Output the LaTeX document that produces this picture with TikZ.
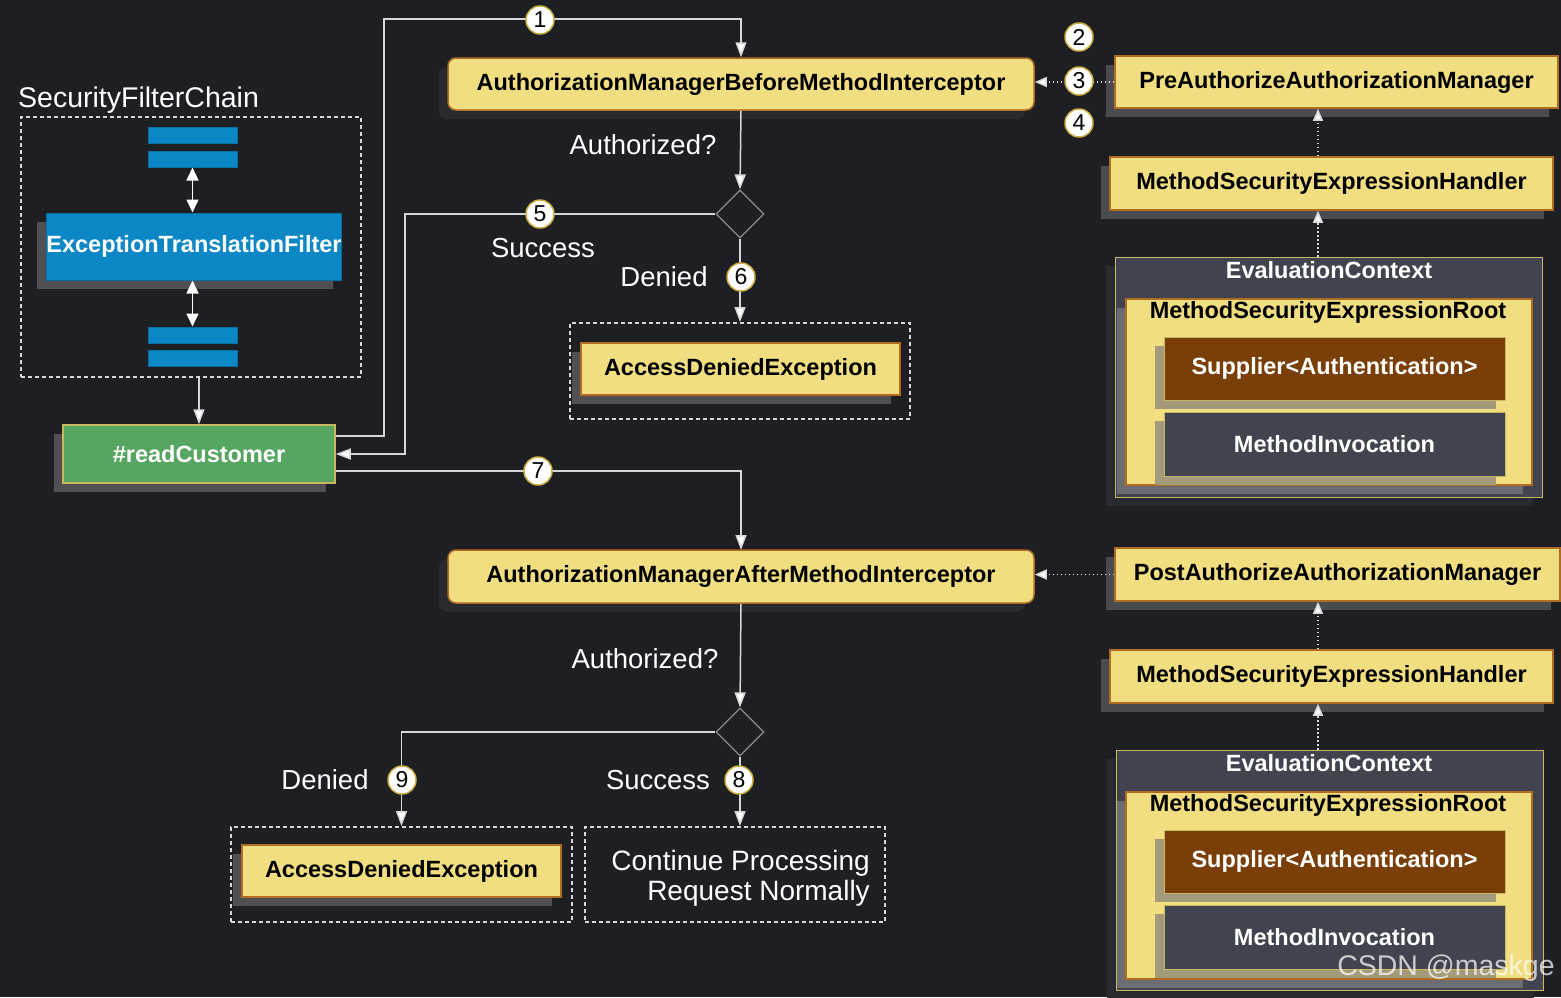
\documentclass[tikz,border=0pt]{standalone}
\usepackage{fontspec}
\setmainfont{Liberation Sans}
\usetikzlibrary{arrows.meta,shapes.geometric,shadows,calc}
\definecolor{bgc}{RGB}{29,31,35}
\definecolor{yel}{RGB}{240,222,128}
\definecolor{yelb}{RGB}{176,108,32}
\definecolor{bluec}{RGB}{11,135,197}
\definecolor{blueb}{RGB}{8,110,160}
\definecolor{greenc}{RGB}{86,165,96}
\definecolor{oliveb}{RGB}{200,184,100}
\definecolor{brownc}{RGB}{122,63,7}
\definecolor{slate}{RGB}{65,68,78}
\definecolor{linec}{RGB}{215,215,215}
\definecolor{diac}{RGB}{140,140,140}
\definecolor{numb}{RGB}{205,175,70}
\definecolor{shad}{RGB}{80,80,82}
\definecolor{shadr}{RGB}{74,75,80}
\definecolor{shadd}{RGB}{40,42,47}
\definecolor{shadm}{RGB}{108,109,114}
\definecolor{shady}{RGB}{162,154,120}
\begin{document}
\begin{tikzpicture}[x=1pt,y=-1pt,
  shd/.style={drop shadow={shadow xshift=-9pt,shadow yshift=-9pt,fill=#1,opacity=1}},
  fbox/.style={font=\fontsize{23.5}{28}\selectfont\bfseries, inner sep=0pt},
  ybox/.style={fbox, fill=yel, draw=yelb, line width=1.5pt, text=black},
  slbox/.style={fill=slate, draw=oliveb, line width=1pt},
  bar/.style={fill=bluec, draw=blueb, line width=1pt, minimum width=89, minimum height=16, inner sep=0pt},
  dbox/.style={draw=linec, line width=2pt, dash pattern=on 4pt off 3pt, inner sep=0pt},
  dia/.style={diamond, draw=diac, line width=1.2pt, minimum width=48, minimum height=48, inner sep=0pt},
  lbl/.style={font=\fontsize{27.5}{30}\selectfont, text=white, inner sep=0pt},
  num/.style={circle, fill=white, draw=numb, line width=1.5pt, inner sep=0pt, minimum size=28pt, font=\fontsize{23}{23}\selectfont, text=black},
  arr/.style={draw=linec, line width=1.5pt, -{Triangle[width=11pt,length=15pt,fill=white]}},
  dblarr/.style={draw=white, line width=1.5pt, {Triangle[width=12pt,length=13pt,fill=white]}-{Triangle[width=12pt,length=13pt,fill=white]}},
  dotarr/.style={draw=linec, line width=1.5pt, dash pattern=on 1.5pt off 2.5pt, -{Triangle[width=10pt,length=12pt,fill=white]}}
]
\path[use as bounding box, fill=bgc] (0,0) rectangle (1561,997);

% ---------- SecurityFilterChain ----------
\node[lbl, anchor=west, font=\fontsize{28.5}{30}\selectfont] (sfcl) at (18,100) {SecurityFilterChain};
\node[dbox, minimum width=340, minimum height=260] (sfc) at (191,247) {};
\node[bar] (b1) at (192.5,135) {};
\node[bar] (b2) at (192.5,159) {};
\node[bar] (b3) at (192.5,335) {};
\node[bar] (b4) at (192.5,358) {};
\node[fbox, fill=bluec, draw=blueb, line width=1pt, text=white, minimum width=294, minimum height=67, shd=shad] (etf) at (194,246.5) {ExceptionTranslationFilter};
\draw[dblarr] (b2.south) -- (b2.south |- etf.north);
\draw[dblarr] (b3.north |- etf.south) -- (b3.north);
\node[fbox, fill=greenc, draw=oliveb, line width=1.5pt, text=white, minimum width=272, minimum height=58, shd=shad] (rc) at (199,454) {\#readCustomer};
\draw[arr] (sfc.south -| rc.north) -- (rc.north);

% ---------- Before interceptor ----------
\node[ybox, rounded corners=8pt, minimum width=586, minimum height=52, shd=shadd] (before) at (741,84) {AuthorizationManagerBeforeMethodInterceptor};
\node[dia] (d1) at (740,214) {};
\node[dbox, minimum width=340, minimum height=96] (adb1) at (740,371) {};
\node[ybox, minimum width=319, minimum height=52, shd=shad] (ad1) at (740.5,369) {AccessDeniedException};

\draw[arr] ($(rc.east)+(0,-18)$) -| (384,19) -| (before.north);
\draw[arr] (before.south) -- (d1.north);
\draw[arr] (d1.west) -| (405,454) -- (rc.east);
\draw[arr] (d1.south) -- (adb1.north);
\draw[arr] ($(rc.east)+(0,17)$) -| (741,550);

\node[lbl] (q1) at (643,145) {Authorized?};
\node[lbl] (s1) at (543,248) {Success};
\node[lbl] (dn1) at (664,277) {Denied};

% ---------- After interceptor ----------
\node[ybox, rounded corners=8pt, minimum width=586, minimum height=53, shd=shadd] (after) at (741,576.5) {AuthorizationManagerAfterMethodInterceptor};
\node[dia] (d2) at (740,732) {};
\node[dbox, minimum width=341, minimum height=95] (adb2) at (401.5,874.5) {};
\node[ybox, minimum width=319, minimum height=52, shd=shad] (ad2) at (401.5,871) {AccessDeniedException};
\node[dbox, minimum width=300, minimum height=95] (cb) at (735,874.5) {};
\node[lbl, align=right, anchor=east, font=\fontsize{28}{30}\selectfont] (ct) at (870,878) {Continue Processing\\Request Normally};

\draw[arr] (after.south) -- (d2.north);
\draw[arr] (d2.west) -| (adb2.north);
\draw[arr] (d2.south) -- (d2.south |- cb.north);

\node[lbl] (q2) at (645,659) {Authorized?};
\node[lbl] (dn2) at (325,780) {Denied};
\node[lbl] (s2) at (658,780) {Success};

% ---------- Right column, top ----------
\coordinate (ax) at (1318,0);
\node[ybox, minimum width=443, minimum height=52, shd=shadr] (pre) at (1336.5,82) {PreAuthorizeAuthorizationManager};
\node[ybox, minimum width=443, minimum height=53, shd=shadr] (mseh1) at (1331.5,183.5) {MethodSecurityExpressionHandler};
\node[slbox, minimum width=427, minimum height=240, shd=shadd] (ec1) at (1328.5,377) {};
\node[fbox, text=white] (ec1t) at (1329,270) {EvaluationContext};
\node[ybox, minimum width=406, minimum height=186, shd=shadm] (mser1) at (1329,392) {};
\node[fbox, text=black] (mser1t) at (1328,312) {MethodSecurityExpressionRoot};
\node[fbox, fill=brownc, draw=oliveb, line width=1pt, text=white, minimum width=341, minimum height=63, shd=shady] (sup1) at (1334.5,368.5) {Supplier<Authentication>};
\node[slbox, fbox, text=white, minimum width=341, minimum height=64, shd=shady] (mi1) at (1334.5,444) {MethodInvocation};

\draw[dotarr] (pre.west) -- (pre.west -| before.east);
\draw[dotarr] (mseh1.north -| ax) -- (pre.south -| ax);
\draw[dotarr] (ec1.north -| ax) -- (mseh1.south -| ax);

% ---------- Right column, bottom ----------
\node[ybox, minimum width=445, minimum height=53, shd=shadr] (post) at (1337.5,574.5) {PostAuthorizeAuthorizationManager};
\node[ybox, minimum width=443, minimum height=53, shd=shadr] (mseh2) at (1331.5,676.5) {MethodSecurityExpressionHandler};
\node[slbox, minimum width=427, minimum height=240, shd=shadd] (ec2) at (1329.5,870) {};
\node[fbox, text=white] (ec2t) at (1329,763) {EvaluationContext};
\node[ybox, minimum width=406, minimum height=187, shd=shadm] (mser2) at (1329,885.5) {};
\node[fbox, text=black] (mser2t) at (1328,805) {MethodSecurityExpressionRoot};
\node[fbox, fill=brownc, draw=oliveb, line width=1pt, text=white, minimum width=341, minimum height=63, shd=shady] (sup2) at (1334.5,861.5) {Supplier<Authentication>};
\node[slbox, fbox, text=white, minimum width=341, minimum height=64, shd=shady] (mi2) at (1334.5,937) {MethodInvocation};

\draw[dotarr] (post.west) -- (post.west -| after.east);
\draw[dotarr] (mseh2.north -| ax) -- (post.south -| ax);
\draw[dotarr] (ec2.north -| ax) -- (mseh2.south -| ax);

% ---------- Step numbers ----------
\node[num] (n1) at (540,20) {1};
\node[num] (n2) at (1079,37) {2};
\node[num] (n3) at (1079,81) {3};
\node[num] (n4) at (1079,123) {4};
\node[num] (n5) at (540,214) {5};
\node[num] (n6) at (741,277) {6};
\node[num] (n7) at (538,471) {7};
\node[num] (n8) at (739,780) {8};
\node[num] (n9) at (402,780) {9};

% ---------- watermark ----------
\node[font=\fontsize{28.5}{30}\selectfont, text=white, text opacity=0.72, inner sep=0pt] (wm) at (1446,968) {CSDN @maskge};
\end{tikzpicture}
\end{document}
